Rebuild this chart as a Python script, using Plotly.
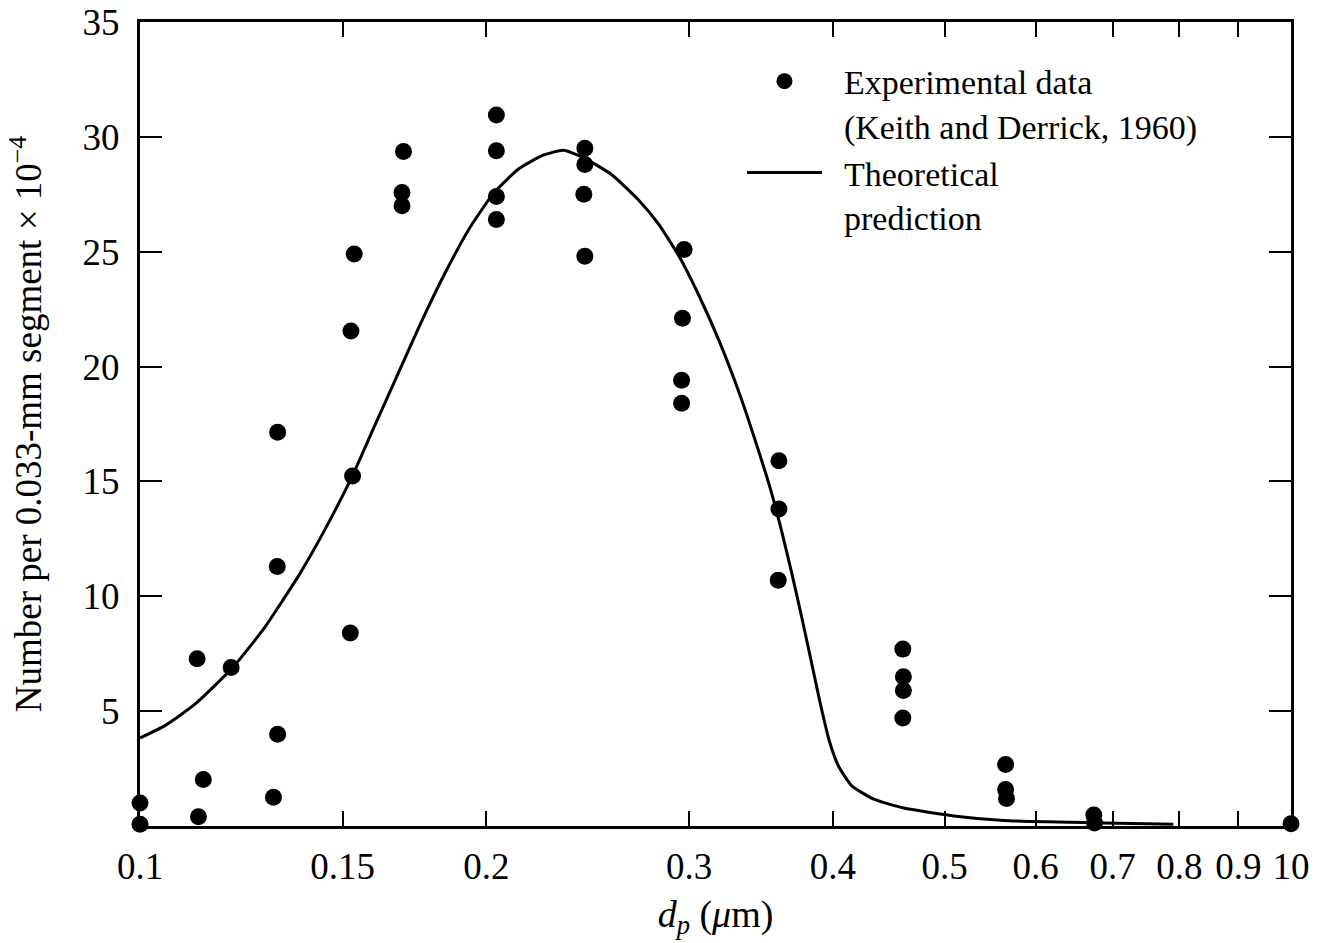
import plotly.graph_objects as go

# Experimental data (Keith and Derrick, 1960)
exp_dp = [0.100, 0.100,
          0.1121, 0.1135, 0.1124,
          0.1200,
          0.1317, 0.1316, 0.1317, 0.1306,
          0.1535, 0.1525, 0.1530, 0.1523,
          0.1694, 0.1689, 0.1689,
          0.2040, 0.2040, 0.2040, 0.2040,
          0.2435, 0.2435, 0.2430, 0.2435,
          0.2970, 0.2960, 0.2955, 0.2955,
          0.3590, 0.3590, 0.3585,
          0.4600, 0.4605, 0.4605, 0.4600,
          0.5650, 0.5650, 0.5660,
          0.6740, 0.6750,
          1.000]
exp_n = [1.00, 0.08,
         7.28, 2.02, 0.40,
         6.90,
         17.14, 11.30, 3.99, 1.25,
         24.90, 21.55, 15.24, 8.40,
         29.36, 27.58, 27.00,
         30.95, 29.40, 27.40, 26.40,
         29.50, 28.80, 27.50, 24.80,
         25.10, 22.10, 19.40, 18.40,
         15.90, 13.80, 10.70,
         7.70, 6.50, 5.90, 4.70,
         2.68, 1.59, 1.20,
         0.48, 0.13,
         0.10]

# Theoretical prediction
curve_dp = [0.1000, 0.1051, 0.1115, 0.1204, 0.1281, 0.1374, 0.1446, 0.1528,
            0.1595, 0.1669, 0.1752, 0.1840, 0.1932, 0.2029, 0.2132, 0.2240,
            0.2333, 0.2427, 0.2570, 0.2711, 0.2822, 0.2940, 0.3062, 0.3190,
            0.3322, 0.3426, 0.3533, 0.3607, 0.3683, 0.3761, 0.3840, 0.3905,
            0.3971, 0.4045, 0.4153, 0.4340, 0.4609, 0.5094, 0.5630, 0.6872,
            0.7903]
curve_n = [3.83, 4.37, 5.28, 6.90, 8.59, 10.91, 12.86, 15.20,
           17.30, 19.50, 21.85, 24.05, 26.00, 27.55, 28.60, 29.20,
           29.42, 29.10, 28.35, 27.25, 26.20, 24.80, 23.05, 21.04,
           18.74, 16.74, 14.60, 12.90, 11.02, 9.00, 6.90, 5.20,
           3.70, 2.60, 1.75, 1.17, 0.78, 0.44, 0.24, 0.13,
           0.08]

x_tickvals = [0.1, 0.15, 0.2, 0.3, 0.4, 0.5, 0.6, 0.7, 0.8, 0.9, 1.0]
x_ticktext = ["0.1", "0.15", "0.2", "0.3", "0.4", "0.5", "0.6", "0.7", "0.8", "0.9", "10"]
y_tickvals = [5, 10, 15, 20, 25, 30, 35]

FONT = "Liberation Serif, Times New Roman, serif"
SP = "\u00a0\u00a0"

fig = go.Figure()
fig.add_trace(go.Scatter(
    x=exp_dp, y=exp_n, mode="markers",
    name=SP + "Experimental data<br>" + SP + "(Keith and Derrick, 1960)",
    marker=dict(color="black", size=17),
    cliponaxis=False,
))
fig.add_trace(go.Scatter(
    x=curve_dp, y=curve_n, mode="lines",
    name=SP + "Theoretical<br>" + SP + "prediction",
    line=dict(color="black", width=3, shape="spline", smoothing=0.5),
))

fig.update_layout(
    width=1319, height=943,
    margin=dict(l=140, r=28, t=22, b=117, autoexpand=False),
    paper_bgcolor="white", plot_bgcolor="white",
    font=dict(family=FONT, size=37, color="black"),
    showlegend=True,
    legend=dict(x=0.523, y=0.962, xanchor="left", yanchor="top",
                bgcolor="rgba(0,0,0,0)", valign="top",
                font=dict(family=FONT, size=34, color="black"),
                tracegroupgap=0, itemwidth=75),
    xaxis=dict(
        type="log", range=[-1, 0], automargin=False,
        tickvals=x_tickvals, ticktext=x_ticktext,
        ticks="inside", ticklen=15, tickwidth=2, tickcolor="black",
        showline=True, linecolor="black", linewidth=3, mirror="ticks",
        showgrid=False, zeroline=False,
        tickfont=dict(family=FONT, size=37, color="black"),
        ticklabelstandoff=6, ticklabeloverflow="allow",
        title=dict(text="<i>d</i><sub><i>p</i></sub> (<i>μ</i>m)",
                   font=dict(family=FONT, size=38, color="black"), standoff=14),
    ),
    yaxis=dict(
        range=[0, 35], automargin=False,
        tickvals=y_tickvals,
        ticks="inside", ticklen=22, tickwidth=2, tickcolor="black",
        showline=True, linecolor="black", linewidth=3, mirror="ticks",
        showgrid=False, zeroline=False,
        tickfont=dict(family=FONT, size=37, color="black"),
        ticklabelstandoff=10, ticklabeloverflow="allow",
        title=dict(text="Number per 0.033-mm segment × 10<sup>−4</sup>",
                   font=dict(family=FONT, size=37, color="black"), standoff=30),
    ),
)

fig.write_html("out.html",
               config={"displayModeBar": False},
               post_script="document.body.style.margin='0';document.body.style.overflow='hidden';")
